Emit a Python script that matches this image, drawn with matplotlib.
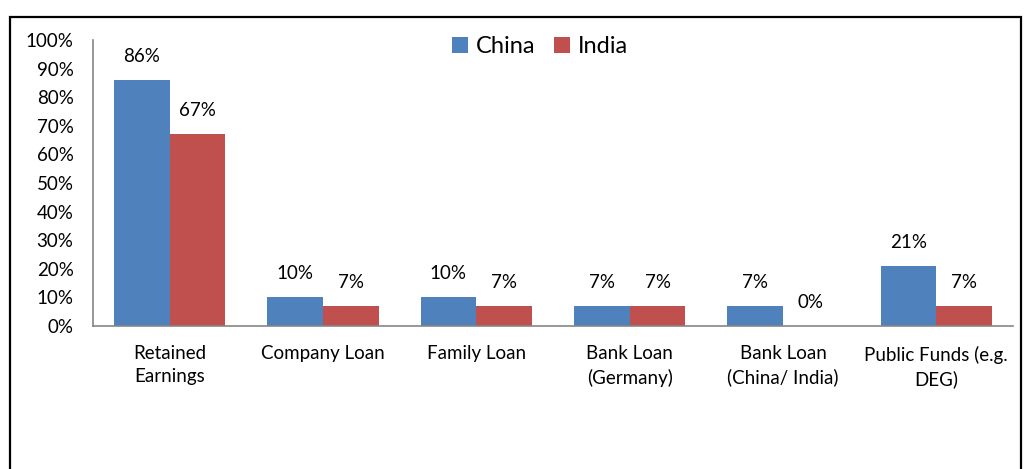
import matplotlib.pyplot as plt
import numpy as np
from matplotlib.patches import Rectangle

plt.rcParams['font.family'] = ['Lato', 'DejaVu Sans']

categories = ["Retained\nEarnings", "Company Loan", "Family Loan",
              "Bank Loan\n(Germany)", "Bank Loan\n(China/ India)",
              "Public Funds (e.g.\nDEG)"]
china = [86, 10, 10, 7, 7, 21]
india = [67, 7, 7, 7, 0, 7]

fig = plt.figure(figsize=(10.26, 4.69), dpi=100)
ax = fig.add_axes([0.0906, 0.3049, 0.8967, 0.6098])

# outer frame of the chart area
fig.patches.append(Rectangle((0.010, -0.05), 0.985, 1.013, transform=fig.transFigure,
                             fill=False, edgecolor='black', linewidth=1.6))

x = np.arange(len(categories))
w = 0.3636
b1 = ax.bar(x - w / 2, np.array(china) / 100, w, color='#4F81BD', label='China')
b2 = ax.bar(x + w / 2, np.array(india) / 100, w, color='#C0504D', label='India')

for bars, vals in ((b1, china), (b2, india)):
    for bar, v in zip(bars, vals):
        ax.annotate(f"{v}%", (bar.get_x() + bar.get_width() / 2, bar.get_height()),
                    xytext=(0, 17), textcoords='offset points',
                    ha='center', va='center', fontsize=13.5)

ax.set_xlim(-0.5, len(categories) - 0.5)
ax.set_ylim(0, 1)
ticks = np.arange(0, 1.01, 0.1)
ax.set_yticks(ticks)
ax.set_yticklabels([f"{int(round(t * 100))}%" for t in ticks], fontsize=13.5)
ax.set_xticks(x)
ax.set_xticklabels(categories, fontsize=13.5, linespacing=1.42, va='top')
ax.tick_params(axis='both', length=0)
ax.tick_params(axis='y', pad=14)
ax.tick_params(axis='x', pad=14)

for s in ('top', 'right'):
    ax.spines[s].set_visible(False)
for s in ('left', 'bottom'):
    ax.spines[s].set_color('#868686')
    ax.spines[s].set_linewidth(1.2)

ax.legend(loc='upper center', bbox_to_anchor=(0.486, 1.088), ncol=2, frameon=False,
          fontsize=17, handlelength=0.65, handleheight=0.65, handletextpad=0.35,
          columnspacing=0.8)

fig.savefig('out.png', dpi=100)
